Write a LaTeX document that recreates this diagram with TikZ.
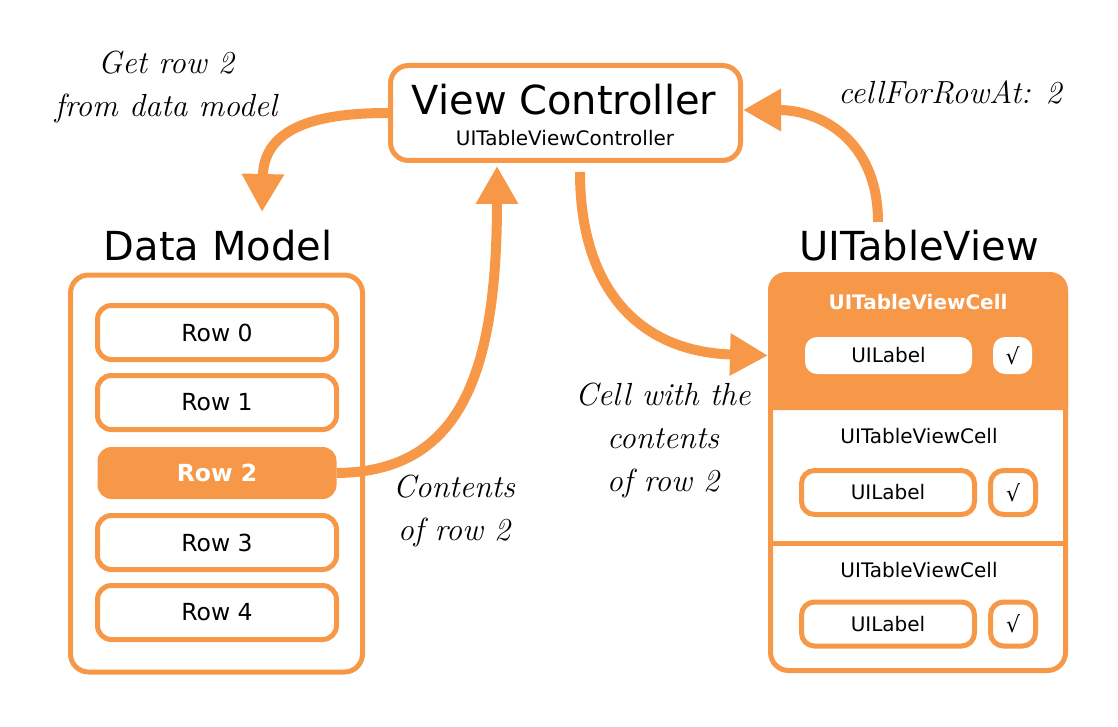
\documentclass[tikz,border=0pt]{standalone}
\usepackage{fontspec}
\newfontfamily\dv{DejaVu Sans}
\usetikzlibrary{arrows.meta}
\definecolor{og}{RGB}{247,152,72}
\begin{document}
\begin{tikzpicture}[x=1pt,y=-1pt,
  box/.style={draw=og, line width=5pt, rounded corners=18pt, fill=white, inner sep=0pt},
  rowbox/.style={box, rounded corners=14pt, minimum width=239pt, minimum height=54pt, font=\dv\fontsize{23.5}{28}\selectfont},
  rowsel/.style={fill=og, rounded corners=14pt, inner sep=0pt, minimum width=239pt, minimum height=52pt, text=white, font=\dv\bfseries\fontsize{23.5}{28}\selectfont},
  lab/.style={box, rounded corners=13pt, minimum width=173pt, minimum height=44pt, font=\dv\fontsize{20}{24}\selectfont},
  chk/.style={box, rounded corners=13pt, minimum width=45pt, minimum height=44pt, font=\dv\fontsize{22}{26}\selectfont},
  labw/.style={fill=white, rounded corners=12pt, inner sep=0pt, minimum width=167pt, minimum height=37pt, font=\dv\fontsize{20}{24}\selectfont},
  chkw/.style={fill=white, rounded corners=12pt, inner sep=0pt, minimum width=39pt, minimum height=37pt, font=\dv\fontsize{22}{26}\selectfont},
  big/.style={anchor=base, font=\dv\fontsize{40}{48}\selectfont},
  cellt/.style={anchor=base, font=\dv\fontsize{20}{24}\selectfont},
  lbl/.style={anchor=base, align=center, font=\fontsize{32}{43}\selectfont\itshape},
  conn/.style={draw=og, line width=10pt, -{Triangle[length=38pt,width=40pt]}}
]
\useasboundingbox (0,0) rectangle (1118,727);

% View controller
\node[box, minimum width=350pt, minimum height=95pt] (vc) at (565.5,113) {};
\node[big] (vct) at (564,115) {View Controller};
\node[cellt] (vcs) at (565,146) {UITableViewController};

% Data model
\node[big] (dmt) at (218,260) {Data Model};
\node[box, minimum width=292pt, minimum height=397pt] (dm) at (216.5,473.5) {};
\node[rowbox] (r0) at (217,332.5) {Row 0};
\node[rowbox] (r1) at (217,402.5) {Row 1};
\node[rowsel] (r2) at (217,473) {Row 2};
\node[rowbox] (r3) at (217,542.5) {Row 3};
\node[rowbox] (r4) at (217,612.5) {Row 4};

% Table view
\node[big] (tvt) at (919,260) {UITableView};
\fill[white, rounded corners=18pt] (770.5,274.5) rectangle (1065.5,670.5);
\fill[og] (768,410) [rounded corners=18pt]-- (768,272) -- (1068,272) [sharp corners]-- (1068,410) -- cycle;
\node[box, fill=none, minimum width=295pt, minimum height=396pt] (tv) at (918,472.5) {};
\draw[og, line width=5pt] (770,543) -- (1066,543);

\node[anchor=base, text=white, font=\dv\bfseries\fontsize{20}{24}\selectfont] (h1) at (918,309) {UITableViewCell};
\node[labw] (lab1) at (888.5,355.5) {UILabel};
\node[chkw] (chk1) at (1012.5,355.5) {√};

\node[cellt] (h2) at (919,443) {UITableViewCell};
\node[lab] (lab2) at (888,492.5) {UILabel};
\node[chk] (chk2) at (1013,492.5) {√};

\node[cellt] (h3) at (919,577) {UITableViewCell};
\node[lab] (lab3) at (888,624) {UILabel};
\node[chk] (chk3) at (1013,624) {√};

% labels (base anchor = baseline of last line)
\node[lbl] (l1) at (166,117) {Get row 2\\from data model};
\node[lbl] (l2) at (950,104) {cellForRowAt: 2};
\node[lbl] (l3) at (454,540) {Contents\\of row 2};
\node[lbl] (l4) at (663,491) {Cell with the\\contents\\of row 2};

% connectors
\coordinate (a1) at (262,212);
\coordinate (a2) at (497,166);
\coordinate (a3s) at (580,172);
\coordinate (a4s) at (878,222);
\draw[conn] (vc.west) .. controls (322,113) and (264,125) .. (a1);
\draw[conn] (r2.east) .. controls (457,472) and (497,380) .. (a2);
\draw[conn] (a3s) .. controls (580,290) and (640,352) .. (tv.west |- lab1);
\draw[conn] (a4s) .. controls (878,140) and (820,110) .. ([yshift=3pt]vc.east);
\end{tikzpicture}
\end{document}
